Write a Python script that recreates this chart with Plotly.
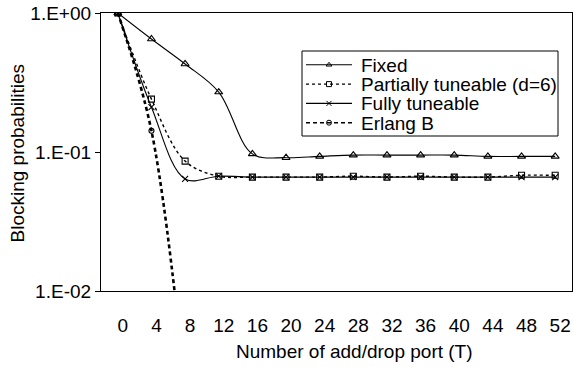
import plotly.graph_objects as go

# Number of add/drop ports (category axis)
ports = [0, 4, 8, 12, 16, 20, 24, 28, 32, 36, 40, 44, 48, 52]
port_labels = [str(p) for p in ports]

# Blocking probabilities per scheme
fixed = [1.0, 0.65, 0.43, 0.27, 0.097, 0.091, 0.093, 0.095, 0.095, 0.095,
         0.095, 0.093, 0.093, 0.093]
partial = [1.0, 0.24, 0.086, 0.067, 0.066, 0.066, 0.066, 0.067, 0.066,
           0.067, 0.066, 0.066, 0.068, 0.068]
fully = [1.0, 0.21, 0.064, 0.067, 0.066, 0.066, 0.066, 0.066, 0.066,
         0.066, 0.066, 0.066, 0.066, 0.066]
erlang_labels = ["0", "4", "8"]
erlang = [1.0, 0.142, 0.002]

y_tickvals = [1, 0.1, 0.01]
y_ticktext = ["1.E+00", "1.E-01", "1.E-02"]

FONT = "Arial, Liberation Sans, sans-serif"
W, H = 573, 367
L, R, T, B = 101, 1, 13, 76

series = [
    dict(name="Fixed", x=port_labels, y=fixed, dash="solid", width=1.1,
         symbol="triangle-up-open", size=7),
    dict(name="Partially tuneable (d=6)", x=port_labels, y=partial,
         dash="3px,3px", width=1.4, symbol="square-open", size=6),
    dict(name="Fully tuneable", x=port_labels, y=fully, dash="solid",
         width=1.1, symbol="x-thin-open", size=6),
    dict(name="Erlang B", x=erlang_labels, y=erlang, dash="4px,3px",
         width=2.6, symbol="circle-open", size=5),
]

fig = go.Figure()
for s in series:
    fig.add_trace(go.Scatter(
        x=s["x"], y=s["y"], mode="lines+markers", name=s["name"],
        line=dict(color="black", width=s["width"], dash=s["dash"],
                  shape="spline", smoothing=1.0),
        marker=dict(symbol=s["symbol"], size=s["size"], color="black",
                    line=dict(color="black", width=1.1)),
        showlegend=False, cliponaxis=True,
    ))

# Legend drawn in pixel coordinates on an overlay axis pair
leg_x0, leg_x1, leg_y0, leg_y1 = 302, 558, 51, 136
row_y = [64.8, 84.1, 103.4, 122.7]
for s, yy in zip(series, row_y):
    fig.add_trace(go.Scatter(
        x=[306, 352], y=[yy, yy], mode="lines", xaxis="x3", yaxis="y3",
        line=dict(color="black", width=min(s["width"], 1.4), dash=s["dash"]),
        showlegend=False, hoverinfo="skip"))
    fig.add_trace(go.Scatter(
        x=[329], y=[yy], mode="markers", xaxis="x3", yaxis="y3",
        marker=dict(symbol=s["symbol"], size=5, color="black",
                    line=dict(color="black", width=1)),
        showlegend=False, hoverinfo="skip"))
    fig.add_annotation(x=360, y=yy + 1.5, xref="x3", yref="y3", text=s["name"],
                       showarrow=False, xanchor="left", yanchor="middle",
                       height=19, valign="bottom", borderpad=0,
                       font=dict(family=FONT, size=19, color="black"))

fig.add_shape(type="rect", xref="x3", yref="y3", x0=leg_x0, x1=leg_x1,
              y0=leg_y0, y1=leg_y1, line=dict(color="black", width=1),
              fillcolor="white", layer="below")

n = len(ports)
fig.update_layout(
    width=W, height=H,
    margin=dict(l=L, r=R, t=T, b=B, pad=0),
    paper_bgcolor="white", plot_bgcolor="white",
    font=dict(family=FONT, size=19, color="black"),
    xaxis=dict(
        type="category", range=[-0.5, n - 0.5], showgrid=False,
        showline=True, linecolor="black", linewidth=1.2, mirror=True,
        ticks="", ticklabelstandoff=17, ticklabelshift=5,
        tickfont=dict(size=19), zeroline=False,
    ),
    xaxis2=dict(
        overlaying="x", side="top", anchor="y", range=[-0.5, n - 0.5],
        tickvals=[i + 0.5 for i in range(n - 1)], ticks="inside",
        ticklen=5, tickcolor="black", tickwidth=1.2, showticklabels=False,
        showgrid=False, showline=False, zeroline=False,
    ),
    yaxis=dict(
        type="log", range=[-2, 0], tickvals=y_tickvals, ticktext=y_ticktext,
        ticks="outside", ticklen=5, tickcolor="black", tickwidth=1.2,
        showline=True, linecolor="black", linewidth=1.2, mirror=True,
        showgrid=False, zeroline=False, tickfont=dict(size=19),
    ),
    xaxis3=dict(overlaying="x", anchor="y3", range=[L, W - R], visible=False),
    yaxis3=dict(overlaying="y", anchor="x3", range=[H - B, T], visible=False),
)

# Axis titles
fig.add_annotation(x=(354 - L) / (W - L - R), y=-(351.5 - (H - B)) / (H - B - T),
                   xref="paper", yref="paper", text="Number of add/drop port (T)",
                   showarrow=False, xanchor="center", yanchor="middle",
                   font=dict(family=FONT, size=19, color="black"))
fig.add_annotation(x=-(L - 17) / (W - L - R), y=((H - B) - 153.5) / (H - B - T),
                   xref="paper", yref="paper", text="Blocking probabilities",
                   textangle=-90, showarrow=False, xanchor="center",
                   yanchor="middle",
                   font=dict(family=FONT, size=19, color="black"))

fig.write_html("out.html")
